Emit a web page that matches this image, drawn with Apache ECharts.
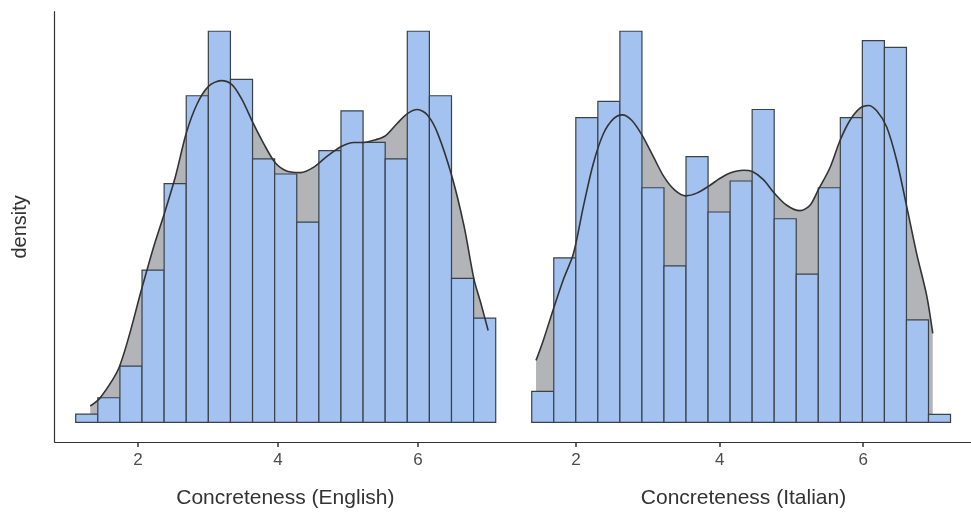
<!DOCTYPE html>
<html>
<head>
<meta charset="utf-8">
<script src="https://cdn.jsdelivr.net/npm/echarts@6/dist/echarts.min.js"></script>
<style>
html,body{margin:0;padding:0;background:#fff;}
#chart{width:971px;height:514px;}
</style>
</head>
<body>
<div id="chart"></div>
<script>
// ---- English panel ----
const enBinStart = 1.11;
const enBinWidth = 0.3158;
const enDensity = [0.006, 0.018, 0.041, 0.111, 0.174, 0.238, 0.285, 0.250, 0.192, 0.181,
                   0.146, 0.198, 0.227, 0.204, 0.192, 0.285, 0.238, 0.105, 0.076];
const enCurveX = [1.318, 1.461, 1.737, 2.062, 2.224, 2.381, 2.534, 2.691, 2.844, 3.010,
                  3.187, 3.345, 3.488, 3.645, 3.797, 3.964, 4.132, 4.322, 4.512, 4.704,
                  4.904, 5.084, 5.227, 5.395, 5.538, 5.705, 5.848, 5.991, 6.134, 6.278,
                  6.486, 6.658, 6.801, 6.897, 7.002];
const enCurveY = [0.012, 0.018, 0.041, 0.099, 0.128, 0.153, 0.179, 0.211, 0.232, 0.245,
                  0.249, 0.246, 0.235, 0.218, 0.203, 0.189, 0.183, 0.182, 0.186, 0.194,
                  0.201, 0.204, 0.204, 0.206, 0.209, 0.218, 0.225, 0.228, 0.224, 0.211,
                  0.179, 0.143, 0.104, 0.087, 0.067];

// ---- Italian panel ----
const itBinStart = 1.383;
const itBinWidth = 0.307;
const itDensity = [0.023, 0.122, 0.226, 0.238, 0.290, 0.174, 0.116, 0.197, 0.156, 0.179,
                   0.232, 0.151, 0.110, 0.174, 0.226, 0.283, 0.278, 0.076, 0.006];
const itCurveX = [1.443, 1.545, 1.684, 1.824, 1.963, 2.102, 2.241, 2.381, 2.520, 2.645,
                  2.775, 2.919, 3.077, 3.226, 3.379, 3.532, 3.681, 3.843, 4.006, 4.145,
                  4.331, 4.456, 4.609, 4.762, 4.934, 5.120, 5.259, 5.370, 5.538, 5.677,
                  5.816, 5.955, 6.071, 6.188, 6.327, 6.467, 6.606, 6.745, 6.884, 6.968];
const itCurveY = [0.046, 0.061, 0.084, 0.106, 0.125, 0.160, 0.192, 0.214, 0.225, 0.228,
                  0.224, 0.213, 0.197, 0.182, 0.172, 0.168, 0.170, 0.175, 0.181, 0.185,
                  0.187, 0.186, 0.180, 0.170, 0.161, 0.157, 0.161, 0.172, 0.189, 0.209,
                  0.224, 0.233, 0.235, 0.231, 0.219, 0.194, 0.160, 0.125, 0.094, 0.066];

const tickValues = [2, 4, 6];
const xTitles = ['Concreteness (English)', 'Concreteness (Italian)'];
const yTitle = 'density';

const BAR_FILL = '#a3c2f0';
const BAR_EDGE = '#3b4149';
const AREA_FILL = '#b2b4b8';
const LINE_COL = '#333333';
const TEXT_COL = '#4d4d4d';
const FONT = '"Liberation Sans", Arial, sans-serif';

function binData(start, width, dens) {
  return dens.map((d, i) => [start + i * width, start + (i + 1) * width, d]);
}
function zip(xs, ys) { return xs.map((x, i) => [x, ys[i]]); }

function yRange(dens, curve) {
  const m = Math.max(...dens, ...curve);
  return { min: -0.05 * m, max: 1.05 * m };
}
const enY = yRange(enDensity, enCurveY);
const itY = yRange(itDensity, itCurveY);

function renderBar(params, api) {
  const x0 = api.value(0), x1 = api.value(1), h = api.value(2);
  const p0 = api.coord([x0, 0]);
  const p1 = api.coord([x1, h]);
  return {
    type: 'rect',
    shape: { x: p0[0], y: p1[1], width: p1[0] - p0[0], height: p0[1] - p1[1] },
    style: { fill: BAR_FILL, stroke: BAR_EDGE, lineWidth: 1.2 }
  };
}

function xAxisCfg(idx, min, max) {
  return {
    type: 'value', gridIndex: idx, min: min, max: max,
    name: xTitles[idx], nameLocation: 'middle', nameGap: 46,
    nameTextStyle: { fontSize: 21, color: '#333', fontFamily: FONT },
    axisLine: { show: true, onZero: false, lineStyle: { color: '#333', width: 1.2 } },
    axisTick: { show: true, length: 5, lineStyle: { color: '#333', width: 1.5 },
                customValues: tickValues },
    axisLabel: { show: true, fontSize: 17, color: TEXT_COL, fontFamily: FONT, margin: 10,
                 customValues: tickValues },
    splitLine: { show: false }
  };
}

const chart = echarts.init(document.getElementById('chart'), null, { renderer: 'canvas' });
chart.setOption({
  backgroundColor: '#ffffff',
  animation: false,
  grid: [
    { left: 54.7, width: 516 - 54.7, top: 11.7, height: 442.3 - 11.7 },
    { left: 516, width: 971 - 516, top: 11.7, height: 442.3 - 11.7 }
  ],
  xAxis: [
    xAxisCfg(0, 0.810, 7.40),
    xAxisCfg(1, 1.164, 7.501)
  ],
  yAxis: [
    {
      type: 'value', gridIndex: 0, min: enY.min, max: enY.max,
      name: yTitle, nameLocation: 'middle', nameGap: 24,
      nameTextStyle: { fontSize: 20, color: '#333', fontFamily: FONT },
      axisLine: { show: true, onZero: false, lineStyle: { color: '#333', width: 1.2 } },
      axisTick: { show: false }, axisLabel: { show: false }, splitLine: { show: false }
    },
    {
      type: 'value', gridIndex: 1, min: itY.min, max: itY.max,
      axisLine: { show: false }, axisTick: { show: false },
      axisLabel: { show: false }, splitLine: { show: false }
    }
  ],
  series: [
    { type: 'line', xAxisIndex: 0, yAxisIndex: 0, data: zip(enCurveX, enCurveY),
      smooth: 0.3, showSymbol: false, symbol: 'none', z: 1,
      lineStyle: { width: 0 }, areaStyle: { color: AREA_FILL, opacity: 1, origin: 0 } },
    { type: 'custom', xAxisIndex: 0, yAxisIndex: 0, data: binData(enBinStart, enBinWidth, enDensity),
      renderItem: renderBar, z: 2, encode: { x: [0, 1], y: 2 } },
    { type: 'line', xAxisIndex: 0, yAxisIndex: 0, data: zip(enCurveX, enCurveY),
      smooth: 0.3, showSymbol: false, symbol: 'none', z: 3,
      lineStyle: { width: 1.6, color: LINE_COL } },

    { type: 'line', xAxisIndex: 1, yAxisIndex: 1, data: zip(itCurveX, itCurveY),
      smooth: 0.3, showSymbol: false, symbol: 'none', z: 1,
      lineStyle: { width: 0 }, areaStyle: { color: AREA_FILL, opacity: 1, origin: 0 } },
    { type: 'custom', xAxisIndex: 1, yAxisIndex: 1, data: binData(itBinStart, itBinWidth, itDensity),
      renderItem: renderBar, z: 2, encode: { x: [0, 1], y: 2 } },
    { type: 'line', xAxisIndex: 1, yAxisIndex: 1, data: zip(itCurveX, itCurveY),
      smooth: 0.3, showSymbol: false, symbol: 'none', z: 3,
      lineStyle: { width: 1.6, color: LINE_COL } }
  ]
});
</script>
</body>
</html>
